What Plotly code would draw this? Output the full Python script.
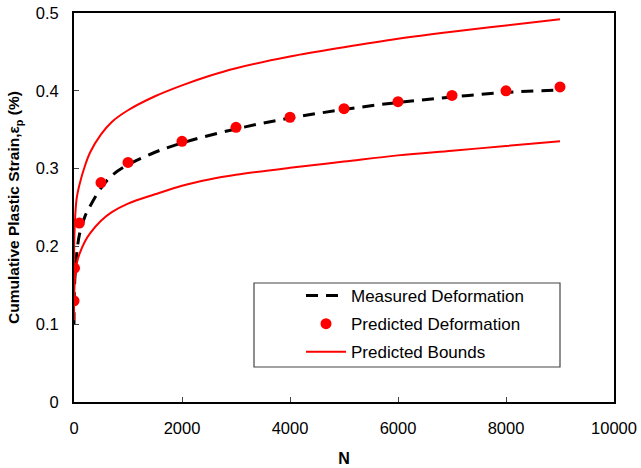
import plotly.graph_objects as go

# Measured deformation (dashed)
meas_n = [0, 10, 50, 100, 200, 300, 500, 700, 1000, 1500, 2000, 3000, 4000, 5000, 6000, 7000, 8000, 9000]
meas_v = [0.10, 0.15, 0.19, 0.215, 0.238, 0.252, 0.275, 0.291, 0.305, 0.321, 0.333, 0.351, 0.365, 0.376, 0.385, 0.392, 0.398, 0.401]

# Predicted deformation (points)
pred_n = [1, 10, 100, 500, 1000, 2000, 3000, 4000, 5000, 6000, 7000, 8000, 9000]
pred_v = [0.130, 0.172, 0.230, 0.282, 0.308, 0.335, 0.353, 0.366, 0.377, 0.386, 0.394, 0.400, 0.405]

# Predicted bounds
bound_n = [0, 10, 50, 100, 200, 300, 500, 700, 1000, 1500, 2000, 2500, 3000, 4000, 5000, 6000, 7000, 8000, 9000]
upper_v = [0.105, 0.22, 0.262, 0.279, 0.303, 0.321, 0.344, 0.360, 0.375, 0.393, 0.407, 0.419, 0.429, 0.444, 0.456, 0.467, 0.476, 0.484, 0.492]
lower_v = [0.105, 0.15, 0.178, 0.19, 0.206, 0.217, 0.233, 0.244, 0.255, 0.267, 0.278, 0.286, 0.292, 0.301, 0.309, 0.317, 0.323, 0.329, 0.335]

x_ticks = [0, 2000, 4000, 6000, 8000, 10000]
x_labels = ["0", "2000", "4000", "6000", "8000", "10000"]
y_ticks = [0, 0.1, 0.2, 0.3, 0.4, 0.5]
y_labels = ["0", "0.1", "0.2", "0.3", "0.4", "0.5"]

FONT = "Liberation Sans, Arial, sans-serif"

fig = go.Figure()
fig.add_trace(go.Scatter(x=meas_n, y=meas_v, mode="lines", name="Measured Deformation", legendgroup="a",
                         line=dict(color="black", width=3, dash="12px,8px", shape="spline")))
fig.add_trace(go.Scatter(x=pred_n, y=pred_v, mode="markers", name="Predicted Deformation", legendgroup="b",
                         marker=dict(color="#ff0000", size=11)))
fig.add_trace(go.Scatter(x=bound_n, y=upper_v, mode="lines", name="Predicted Bounds", legendgroup="c",
                         line=dict(color="#ff0000", width=2, shape="spline")))
fig.add_trace(go.Scatter(x=bound_n, y=lower_v, mode="lines", name="Predicted Bounds", legendgroup="c",
                         showlegend=False,
                         line=dict(color="#ff0000", width=2, shape="spline")))

L, R, T, B = 74, 641 - 614, 13, 468 - 402
PW, PH = 641 - L - R, 468 - T - B

fig.update_layout(
    width=641, height=468,
    margin=dict(l=L, r=R, t=T, b=B, pad=0, autoexpand=False),
    paper_bgcolor="white", plot_bgcolor="white",
    font=dict(family=FONT, size=16.5, color="black"),
    showlegend=True,
    legend=dict(x=(301 - L) / PW, y=(402 - 278) / PH, xanchor="left", yanchor="top",
                bgcolor="rgba(0,0,0,0)", borderwidth=0, traceorder="grouped",
                font=dict(size=17), tracegroupgap=3, itemwidth=40),
    xaxis=dict(range=[0, 10000], tickvals=x_ticks, ticktext=x_labels, ticks="inside", ticklen=5,
               showline=True, linecolor="black", linewidth=2, mirror=True,
               showgrid=False, zeroline=False, automargin=False, ticklabelstandoff=10,
               title=dict(text="<b>N</b>", font=dict(size=16), standoff=17)),
    yaxis=dict(range=[0, 0.5], tickvals=y_ticks, ticktext=y_labels, ticks="inside", ticklen=5,
               showline=True, linecolor="black", linewidth=2, mirror=True,
               showgrid=False, zeroline=False, automargin=False, ticklabelstandoff=10,
               title=dict(text="<b>Cumulative Plastic Strain,ε<sub>p</sub> (%)</b>", font=dict(size=15.5), standoff=12)),
)

# legend box
fig.add_shape(type="rect", xref="paper", yref="paper",
              x0=(254 - L) / PW, x1=(560 - L) / PW,
              y0=(402 - 367) / PH, y1=(402 - 283) / PH,
              line=dict(color="#444444", width=1.2), fillcolor="rgba(0,0,0,0)")

fig.write_html("out.html", config={"displayModeBar": False},
               post_script="document.body.style.margin='0px';document.body.style.padding='0px';")
